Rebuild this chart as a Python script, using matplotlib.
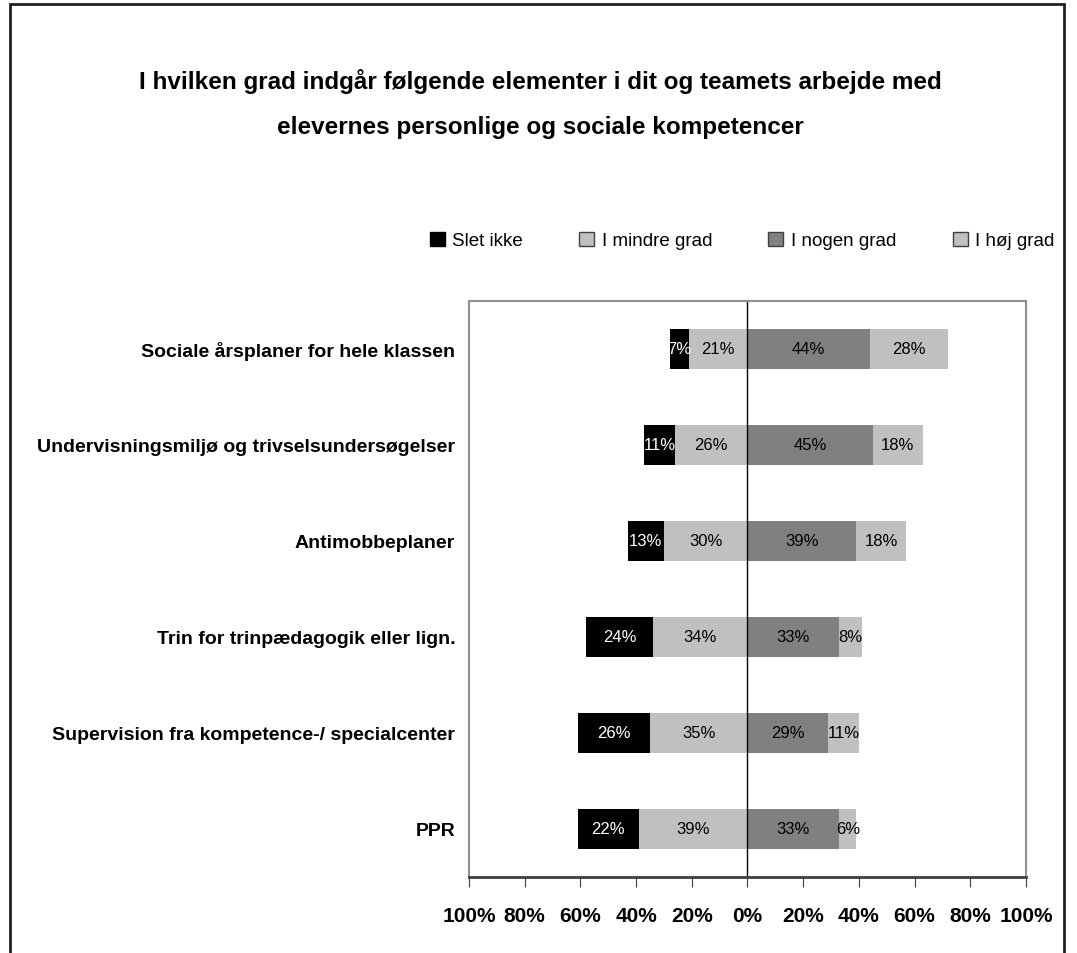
import matplotlib
matplotlib.use("Agg")
import matplotlib.pyplot as plt
from matplotlib.patches import Rectangle

plt.rcParams['font.family'] = ['Liberation Sans', 'DejaVu Sans']

# data
categories = ['Sociale årsplaner for hele klassen',
              'Undervisningsmiljø og trivselsundersøgelser',
              'Antimobbeplaner',
              'Trin for trinpædagogik eller lign.',
              'Supervision fra kompetence-/ specialcenter',
              'PPR']
slet_ikke = [7, 11, 13, 24, 26, 22]
mindre_grad = [21, 26, 30, 34, 35, 39]
nogen_grad = [44, 45, 39, 33, 29, 33]
hoj_grad = [28, 18, 18, 8, 11, 6]
series_names = ['Slet ikke', 'I mindre grad', 'I nogen grad', 'I høj grad']
tick_values = [-100, -80, -60, -40, -20, 0, 20, 40, 60, 80, 100]
title = ('I hvilken grad indgår følgende elementer i dit og teamets arbejde med\n'
         'elevernes personlige og sociale kompetencer')

black = '#000000'
light = '#c0c0c0'
mid = '#808080'

fig = plt.figure(figsize=(10.77, 9.54), dpi=100)

# outer frame
fig.patches.append(Rectangle((0.0095, -0.01), 0.978, 1.005, transform=fig.transFigure,
                             fill=False, edgecolor='#202020', linewidth=2))

ax = fig.add_axes([0.4355, 0.0797, 0.5171, 0.6038])

y = list(range(len(categories)))
h = 0.42

# left side (negative)
ax.barh(y, [-v for v in mindre_grad], height=h, color=light, left=0)
ax.barh(y, [-v for v in slet_ikke], height=h, color=black,
        left=[-v for v in mindre_grad])
# right side
ax.barh(y, nogen_grad, height=h, color=mid, left=0)
ax.barh(y, hoj_grad, height=h, color=light, left=nogen_grad)

lab_fs = 12
for i in y:
    ax.text(-mindre_grad[i] - slet_ikke[i] / 2, i, f'{slet_ikke[i]}%', ha='center', va='center',
            color='white', fontsize=lab_fs)
    ax.text(-mindre_grad[i] / 2, i, f'{mindre_grad[i]}%', ha='center', va='center',
            color='black', fontsize=lab_fs)
    ax.text(nogen_grad[i] / 2, i, f'{nogen_grad[i]}%', ha='center', va='center',
            color='black', fontsize=lab_fs)
    ax.text(nogen_grad[i] + hoj_grad[i] / 2, i, f'{hoj_grad[i]}%', ha='center', va='center',
            color='black', fontsize=lab_fs)

ax.axvline(0, color='black', linewidth=1)

ax.set_xlim(-100, 100)
ax.set_ylim(len(categories) - 0.5, -0.5)
ax.set_xticks(tick_values)
ax.set_xticklabels([f'{abs(t)}%' for t in tick_values], fontsize=15, fontweight='bold')
ax.set_yticks(y)
ax.set_yticklabels(categories, fontsize=14, fontweight='bold')
ax.tick_params(axis='y', length=0, pad=10)
ax.tick_params(axis='x', length=7, direction='out', color='#404040', pad=14)

for side in ['top', 'left', 'right']:
    ax.spines[side].set_color('#909090')
    ax.spines[side].set_linewidth(1.5)
ax.spines['bottom'].set_color('#404040')
ax.spines['bottom'].set_linewidth(2)

fig.text(0.502, 0.891, title, ha='center', va='center', fontsize=17.5, fontweight='bold',
         linespacing=2.2)

handles = [Rectangle((0, 0), 1, 1, facecolor=black, edgecolor='black'),
           Rectangle((0, 0), 1, 1, facecolor=light, edgecolor='#404040'),
           Rectangle((0, 0), 1, 1, facecolor=mid, edgecolor='#404040'),
           Rectangle((0, 0), 1, 1, facecolor=light, edgecolor='#404040')]
fig.legend(handles, series_names, loc='center', bbox_to_anchor=(0.689, 0.747), ncol=4,
           frameon=False, fontsize=13.5, handlelength=0.8, handleheight=0.8,
           handletextpad=0.4, columnspacing=3.0)

fig.savefig('out.png', dpi=100)
